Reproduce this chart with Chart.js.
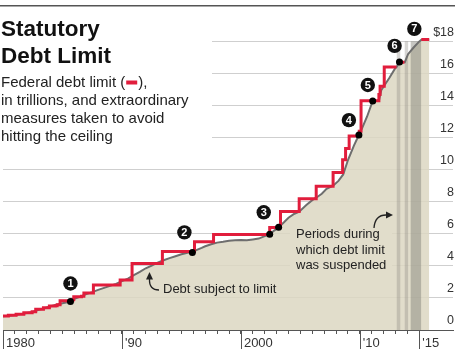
<!DOCTYPE html>
<html>
<head>
<meta charset="utf-8">
<script src="https://cdn.jsdelivr.net/npm/chart.js@4.4.1/dist/chart.umd.min.js"></script>
<style>
  html, body { margin: 0; padding: 0; background: #fff; }
</style>
</head>
<body>
<canvas id="myChart" width="455" height="353"></canvas>
<script>
// debt subject to limit, $ trillions
const debtYears = [1980, 1980.5, 1981, 1981.5, 1982, 1982.5, 1983, 1983.5, 1984, 1984.5, 1985, 1985.67, 1986, 1986.5, 1987, 1987.5, 1988, 1988.5, 1989, 1989.5, 1990, 1990.5, 1991, 1991.5, 1992, 1992.5, 1993, 1993.5, 1994, 1994.5, 1995, 1995.5, 1995.92, 1996.3, 1996.7, 1997, 1997.5, 1998, 1998.5, 1999, 1999.5, 2000, 2000.5, 2001, 2001.5, 2002, 2002.42, 2002.8, 2003.17, 2003.6, 2004, 2004.5, 2004.9, 2005.5, 2006, 2006.33, 2006.8, 2007.2, 2007.75, 2008.2, 2008.6, 2009, 2009.5, 2009.92, 2010.2, 2010.6, 2011.08, 2011.4, 2011.6, 2011.8, 2012.1, 2012.5, 2012.95, 2013.08, 2013.33, 2013.78, 2014.05, 2014.5, 2015, 2015.17, 2015.83];
const debtValues = [0.86, 0.89, 0.94, 0.99, 1.06, 1.13, 1.26, 1.36, 1.48, 1.57, 1.67, 1.78, 1.95, 2.08, 2.24, 2.36, 2.5, 2.63, 2.75, 2.88, 3.05, 3.2, 3.42, 3.62, 3.85, 4.02, 4.2, 4.35, 4.48, 4.6, 4.72, 4.82, 4.86, 5.0, 5.12, 5.22, 5.35, 5.45, 5.5, 5.56, 5.6, 5.62, 5.6, 5.65, 5.7, 5.85, 5.97, 6.2, 6.41, 6.7, 7.0, 7.25, 7.38, 7.8, 8.1, 8.25, 8.5, 8.8, 9.0, 9.3, 9.7, 10.6, 11.5, 12.16, 12.6, 13.3, 14.28, 14.29, 14.3, 14.95, 15.3, 15.75, 16.3, 16.39, 16.72, 16.7, 17.2, 17.6, 18.0, 18.1, 18.1];

// statutory limit, value takes effect at that date; null = suspended
const limitYears = [1980, 1980.45, 1981.1, 1981.75, 1982.45, 1982.75, 1983.4, 1983.9, 1984.4, 1984.55, 1984.8, 1985.87, 1985.95, 1986.6, 1986.8, 1987.6, 1989.85, 1990.85, 1993.4, 1996.1, 1997.7, 2002.42, 2003.33, 2004.9, 2006.33, 2007.75, 2008.55, 2008.8, 2009.1, 2009.95, 2010.1, 2011.6, 2011.7, 2012.05, 2013.08, 2013.2, 2013.4, 2013.75, 2014.5, 2015.17, 2015.83];
const limitValues = [0.879, 0.925, 0.985, 1.079, 1.143, 1.29, 1.389, 1.49, 1.52, 1.573, 1.823, 1.904, 2.079, 2.111, 2.3, 2.8, 3.122, 4.145, 4.9, 5.5, 5.95, 6.4, 7.384, 8.184, 8.965, 9.815, 10.615, 11.315, 12.104, 12.394, 14.294, 14.694, 15.194, 16.394, 16.394, null, 16.699, 16.699, null, 18.113, 18.113];

// periods when the limit was suspended
const suspendStart = [2013.08, 2013.75, 2014.25];
const suspendEnd = [2013.42, 2014.08, 2015.17];

// points where the debt hit the ceiling
const dotYears = [1985.67, 1995.92, 2002.42, 2003.17, 2009.92, 2011.08, 2013.33];
const dotValues = [1.78, 4.84, 5.97, 6.41, 12.16, 14.28, 16.72];

// numbered callouts
const markerYears = [1985.67, 1995.25, 2001.92, 2009.08, 2010.67, 2012.92, 2014.58];
const markerValues = [2.9, 6.09, 7.34, 13.09, 15.28, 17.72, 18.78];
const markerLabels = ['1', '2', '3', '4', '5', '6', '7'];

const yTicks = [0, 2, 4, 6, 8, 10, 12, 14, 16, 18];
const xMajor = [1980, 1990, 2000, 2010, 2015];
const xMajorLabels = ['1980', "'90", '2000', "'10", "'15"];

const RED = '#e11d3c';
const FONT = '"Liberation Sans", Arial, sans-serif';

function pts(xs, ys) {
  return xs.map((x, i) => ({ x: x, y: ys[i] }));
}

const bandSets = suspendStart.map((s, i) => ({
  type: 'line',
  data: [{ x: s, y: 18 }, { x: suspendEnd[i], y: 18 }],
  fill: 'origin',
  backgroundColor: (suspendEnd[i] - s) > 0.5 ? 'rgba(120,118,110,0.42)' : 'rgba(130,128,120,0.32)',
  borderWidth: 0,
  pointRadius: 0,
  order: 4
}));

const notes = {
  id: 'notes',
  beforeDatasetsDraw(chart) {
    const c = chart.ctx;
    c.save();
    c.fillStyle = '#fff';
    c.fillRect(0, 8, 212, 143);
    c.fillStyle = '#555';
    c.fillRect(0, 5, chart.width, 1.5);

    c.textBaseline = 'alphabetic';
    c.textAlign = 'left';
    c.fillStyle = '#111';
    c.font = 'bold 22.5px ' + FONT;
    c.fillText('Statutory', 1, 36);
    c.fillText('Debt Limit', 1, 63);

    c.font = '15px ' + FONT;
    c.fillStyle = '#222';
    const l1 = 'Federal debt limit (';
    c.fillText(l1, 1, 87);
    const w = c.measureText(l1).width;
    c.fillStyle = RED;
    c.fillRect(1 + w + 1, 80.5, 11, 4);
    c.fillStyle = '#222';
    c.fillText('),', 1 + w + 13, 87);
    c.fillText('in trillions, and extraordinary', 1, 105);
    c.fillText('measures taken to avoid', 1, 123);
    c.fillText('hitting the ceiling', 1, 141);
    c.restore();
  },
  afterDatasetsDraw(chart) {
    const c = chart.ctx;
    c.save();
    // numbers inside the callout circles
    const meta = chart.getDatasetMeta(0);
    c.fillStyle = '#fff';
    c.font = 'bold 11px ' + FONT;
    c.textAlign = 'center';
    c.textBaseline = 'middle';
    meta.data.forEach((p, i) => c.fillText(markerLabels[i], p.x, p.y + 0.5));

    // "Periods during ..." note
    c.fillStyle = '#e1ddcb';
    c.fillRect(290, 224, 102, 49);
    c.fillStyle = '#222';
    c.font = '13px ' + FONT;
    c.textAlign = 'left';
    c.textBaseline = 'alphabetic';
    c.fillText('Periods during', 296, 238);
    c.fillText('which debt limit', 296, 253.5);
    c.fillText('was suspended', 296, 269);
    c.fillText('Debt subject to limit', 163, 293);

    c.strokeStyle = '#222';
    c.lineWidth = 1.3;
    c.beginPath();
    c.moveTo(159, 290);
    c.quadraticCurveTo(149, 290, 149.5, 279);
    c.stroke();
    c.beginPath();
    c.moveTo(149.5, 272);
    c.lineTo(146, 279.5);
    c.lineTo(153, 279.5);
    c.closePath();
    c.fillStyle = '#222';
    c.fill();

    c.beginPath();
    c.moveTo(374, 228);
    c.quadraticCurveTo(375, 215, 386, 215);
    c.stroke();
    c.beginPath();
    c.moveTo(393, 215);
    c.lineTo(386, 211.5);
    c.lineTo(386, 218.5);
    c.closePath();
    c.fill();
    c.restore();
  },
  afterDraw(chart) {
    // longer marks for the labelled years
    const c = chart.ctx;
    const x = chart.scales.x;
    c.save();
    c.strokeStyle = '#555';
    c.lineWidth = 1;
    xMajor.forEach(v => {
      const px = Math.round(x.getPixelForValue(v)) + 0.5;
      c.beginPath();
      c.moveTo(px, x.top);
      c.lineTo(px, x.top + 19);
      c.stroke();
    });
    c.restore();
  }
};

new Chart('myChart', {
  type: 'line',
  data: {
    datasets: [
      {
        type: 'scatter',
        data: pts(markerYears, markerValues),
        pointRadius: 7.2,
        pointBackgroundColor: '#111',
        pointBorderWidth: 0,
        clip: false,
        order: 0
      },
      {
        type: 'scatter',
        data: pts(dotYears, dotValues),
        pointRadius: 3.5,
        pointBackgroundColor: '#000',
        pointBorderWidth: 0,
        order: 1
      },
      {
        data: pts(limitYears, limitValues),
        stepped: 'before',
        borderColor: RED,
        borderWidth: 3,
        pointRadius: 0,
        fill: false,
        spanGaps: false,
        order: 2
      },
      {
        data: pts(debtYears, debtValues),
        borderColor: '#6e6e6e',
        borderWidth: 2,
        pointRadius: 0,
        fill: false,
        order: 3
      },
      ...bandSets,
      {
        data: pts(debtYears, debtValues),
        borderWidth: 0,
        pointRadius: 0,
        fill: 'origin',
        backgroundColor: 'rgba(220,215,194,0.85)',
        order: 6
      }
    ]
  },
  options: {
    responsive: false,
    animation: false,
    layout: { autoPadding: false, padding: { top: 8, bottom: 0, left: 0, right: 0 } },
    plugins: { legend: { display: false }, tooltip: { enabled: false } },
    scales: {
      x: {
        type: 'linear',
        min: 1980,
        max: 2017.83,
        afterBuildTicks: s => {
          const t = [];
          for (let y = 1980; y <= 2015; y++) t.push({ value: y });
          s.ticks = t;
        },
        grid: {
          drawOnChartArea: false,
          drawTicks: true,
          tickLength: 4,
          tickColor: '#555',
          tickWidth: 1
        },
        border: { display: true, color: '#555', width: 1 },
        ticks: {
          autoSkip: false,
          maxRotation: 0,
          align: 'start',
          labelOffset: 3,
          padding: 3,
          color: '#333',
          font: { family: FONT, size: 13, lineHeight: 1 },
          callback: v => {
            const i = xMajor.indexOf(v);
            return i < 0 ? '' : xMajorLabels[i];
          }
        }
      },
      y: {
        position: 'right',
        min: 0,
        max: 20.05,
        afterBuildTicks: s => { s.ticks = yTicks.map(v => ({ value: v })); },
        grid: { color: '#cfcfcf', lineWidth: 1, drawTicks: false },
        border: { display: false },
        ticks: {
          mirror: true,
          padding: 1,
          labelOffset: -9,
          color: '#333',
          font: { family: FONT, size: 12.5 },
          callback: v => v === 18 ? '$18' : String(v)
        }
      }
    }
  },
  plugins: [notes]
});
</script>
</body>
</html>
